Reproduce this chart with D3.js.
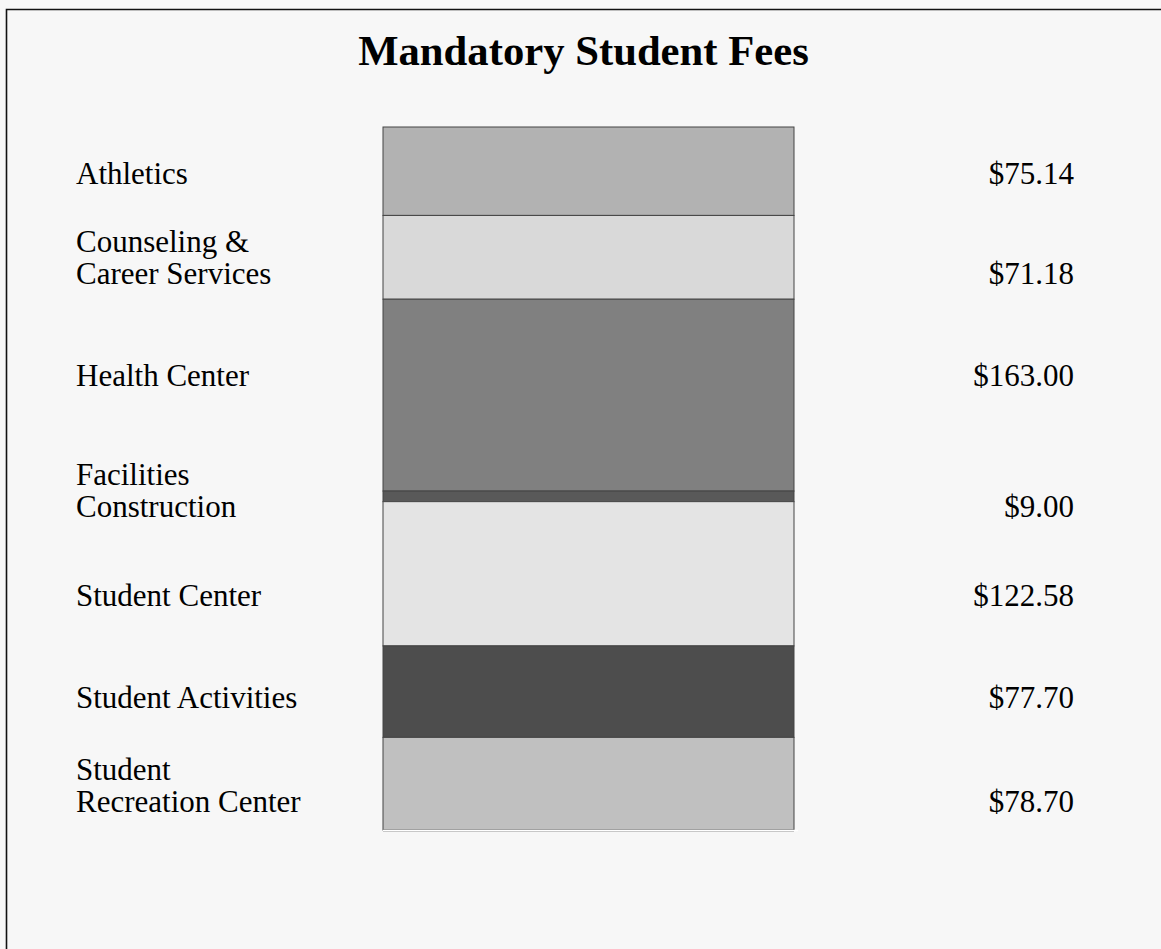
<!DOCTYPE html>
<html>
<head>
<meta charset="utf-8">
<script src="https://cdn.jsdelivr.net/npm/d3@7/dist/d3.min.js"></script>
<style>
  html, body { margin: 0; padding: 0; background: #f7f7f7; }
  svg { display: block; }
</style>
</head>
<body>
<svg id="chart" width="1161" height="949"></svg>
<script>
// ---- data ----
const categories = [
  ["Athletics"],
  ["Counseling &", "Career Services"],
  ["Health Center"],
  ["Facilities", "Construction"],
  ["Student Center"],
  ["Student Activities"],
  ["Student", "Recreation Center"]
];
const fees = [75.14, 71.18, 163.00, 9.00, 122.58, 77.70, 78.70];
const valueLabels = ["$75.14", "$71.18", "$163.00", "$9.00", "$122.58", "$77.70", "$78.70"];
const title = "Mandatory Student Fees";

// ---- style / layout ----
const fills = ["#b2b2b2", "#d9d9d9", "#808080", "#595959", "#e4e4e4", "#4d4d4d", "#c0c0c0"];
const labelBaselines = [184, 284, 386, 517, 606, 708, 812]; // baseline of last label line
const lineGap = 32;
const W = 1161, H = 949;
const font = "'Liberation Serif', 'Times New Roman', serif";

const svg = d3.select("#chart");
svg.append("rect").attr("width", W).attr("height", H).attr("fill", "#f7f7f7");

// frame
svg.append("path")
  .attr("d", `M6.5,${H} L6.5,9.5 L${W},9.5`)
  .attr("fill", "none").attr("stroke", "#111").attr("stroke-width", 1.6);

// title
svg.append("text")
  .attr("x", 583.5).attr("y", 65)
  .attr("text-anchor", "middle")
  .attr("font-family", font).attr("font-weight", "bold").attr("font-size", 42.7)
  .attr("fill", "#000")
  .text(title);

// stacked data
const total = d3.sum(fees);
const cum = d3.cumsum(fees);
const stacked = fees.map((v, i) => ({ v, i, y0: cum[i] - v, y1: cum[i] }));

const y = d3.scaleLinear().domain([0, total]).range([127, 830]);
const x = d3.scaleBand().domain(["fees"]).range([383, 794]).padding(0);

svg.append("g").selectAll("rect")
  .data(stacked)
  .join("rect")
  .attr("x", x("fees"))
  .attr("width", x.bandwidth())
  .attr("y", d => y(d.y0))
  .attr("height", d => y(d.y1) - y(d.y0))
  .attr("fill", (d, i) => fills[i])
  .attr("stroke", "#444")
  .attr("stroke-width", 1);

// light line under last segment
svg.append("line")
  .attr("x1", x("fees")).attr("x2", x("fees") + x.bandwidth() + 4)
  .attr("y1", y(total) + 0.5).attr("y2", y(total) + 0.5)
  .attr("stroke", "#fff").attr("stroke-width", 1.5);
svg.append("line")
  .attr("x1", x("fees")).attr("x2", x("fees") + x.bandwidth())
  .attr("y1", y(total) + 1.5).attr("y2", y(total) + 1.5)
  .attr("stroke", "#c8c8c8").attr("stroke-width", 1);

// category labels
const lab = svg.append("g")
  .attr("font-family", font).attr("font-size", 31).attr("fill", "#000");
categories.forEach((lines, i) => {
  const n = lines.length;
  lines.forEach((t, j) => {
    lab.append("text")
      .attr("x", 76)
      .attr("y", labelBaselines[i] - (n - 1 - j) * lineGap)
      .text(t);
  });
});

// value labels
svg.append("g")
  .attr("font-family", font).attr("font-size", 31).attr("fill", "#000")
  .selectAll("text")
  .data(valueLabels)
  .join("text")
  .attr("x", 1074)
  .attr("y", (d, i) => labelBaselines[i])
  .attr("text-anchor", "end")
  .text(d => d);
</script>
</body>
</html>
